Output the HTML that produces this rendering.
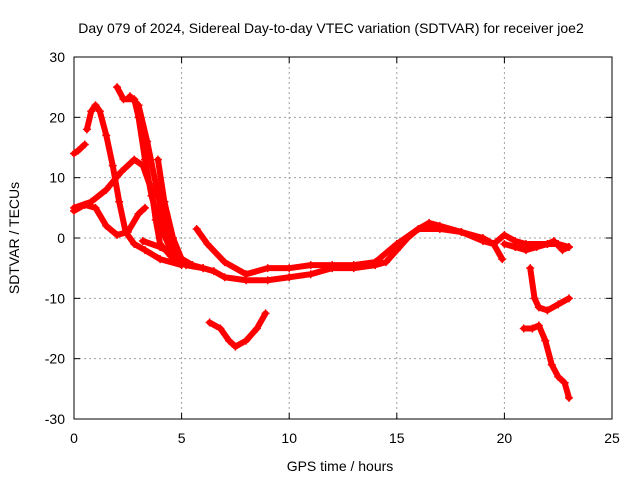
<!DOCTYPE html>
<html><head><meta charset="utf-8"><style>
body{margin:0;background:#fff;}
svg text{font-family:"Liberation Sans",sans-serif;font-size:14px;fill:#000;}
</style></head><body>
<svg id="c" width="640" height="480">
<text x="331" y="33" text-anchor="middle">Day 079 of 2024, Sidereal Day-to-day VTEC variation (SDTVAR) for receiver joe2</text>
<text x="340" y="471" text-anchor="middle">GPS time / hours</text>
<text x="19" y="238" text-anchor="middle" transform="rotate(-90 19 238)">SDTVAR / TECUs</text>
<g id="grid"></g><g id="axes"></g><g id="marks"></g>
</svg>
<script>
const xTicks=[0,5,10,15,20,25];
const yTicks=[-30,-20,-10,0,10,20,30];
const tracks=[
[[0,14],[0.2,14.5],[0.5,15.5]],
[[0.6,18],[0.8,21],[1.0,22],[1.2,21],[1.5,17],[1.8,12],[2.1,6],[2.4,1],[2.8,-1],[3.3,-2],[4,-3.5],[5,-4.5]],
[[2.0,25],[2.3,23],[2.8,23],[3.0,20],[3.3,13],[3.6,7],[4.0,2],[4.5,-2],[5,-4],[5.5,-4.5]],
[[2.6,23.5],[3.0,22],[3.4,16],[3.8,9],[4.2,2],[4.6,-2],[5.2,-4.5],[6,-5]],
[[3.9,13],[4.2,6],[4.6,0],[5.0,-3.5],[5.5,-4.5]],
[[0,4.5],[0.5,5.5],[1.0,5],[1.5,2],[2.0,0.5],[2.5,1],[3.0,4],[3.3,5]],
[[0,5],[0.8,6],[1.5,8],[2.2,11],[2.8,13],[3.2,12],[3.6,8],[3.8,3],[4.0,-1],[4.5,-3],[5,-4]],
[[3.2,-0.5],[4,-1.5],[4.8,-3],[5.5,-4.5],[6,-5],[6.5,-5.5],[7,-6.5],[8,-7],[9,-7],[10,-6.5],[11,-6],[12,-5],[13,-5],[14,-4.5],[14.5,-4],[15,-2],[15.5,0],[16,1.5],[17,1.5],[18,1],[19,0],[19.5,-1],[20,0.5],[20.5,-0.5],[21,-1],[22,-1],[22.5,-1],[23,-1.5]],
[[5.7,1.5],[6.2,-1],[7,-4],[8,-6],[9,-5],[10,-5],[11,-4.5],[12,-4.5],[13,-4.5],[14,-4],[15,-1],[16,1.5],[16.5,2.5],[17,2],[18,1],[19,-0.5],[19.5,-1],[19.9,-3.5]],
[[6.3,-14],[6.8,-15],[7.2,-17],[7.5,-18],[8,-17],[8.5,-15],[8.9,-12.5]],
[[21.2,-5],[21.4,-10],[21.6,-11.5],[22,-12],[22.5,-11],[23,-10]],
[[20.9,-15],[21.3,-15],[21.6,-14.5],[21.9,-17],[22.2,-21],[22.5,-23],[22.8,-24],[23,-26.5]],
[[20,-1],[20.5,-1.5],[21,-2],[21.5,-1.5],[22,-1],[22.3,-0.5],[22.7,-2],[23,-1.5]]
];
const X0=74,X1=612,Y0=419,Y1=57;
const sx=v=>X0+(v-0)/25*(X1-X0);
const sy=v=>Y0-(v+30)/60*(Y0-Y1);
const NS="http://www.w3.org/2000/svg";
function mk(t,a,p){const e=document.createElementNS(NS,t);for(const k in a)e.setAttribute(k,a[k]);p.appendChild(e);return e;}
const grid=document.getElementById('grid'),axes=document.getElementById('axes'),marks=document.getElementById('marks');
xTicks.forEach(t=>{
 const x=sx(t);
 if(t>0&&t<25){const g=mk('line',{x1:x,x2:x,y1:Y1,y2:Y0,stroke:'#a0a0a0','stroke-dasharray':'2,3'},grid);
 
 }
 mk('line',{x1:x,x2:x,y1:Y0,y2:Y0-6,stroke:'#000'},axes);
 mk('line',{x1:x,x2:x,y1:Y1,y2:Y1+6,stroke:'#000'},axes);
 const l=mk('text',{x:x,y:443,'text-anchor':'middle'},axes);l.textContent=t;
 
 
});
yTicks.forEach(t=>{
 const y=sy(t);
 if(t>-30&&t<30){const g=mk('line',{x1:X0,x2:X1,y1:y,y2:y,stroke:'#a0a0a0','stroke-dasharray':'2,3'},grid);
 
 }
 mk('line',{x1:X0,x2:X0+6,y1:y,y2:y,stroke:'#000'},axes);
 mk('line',{x1:X1,x2:X1-6,y1:y,y2:y,stroke:'#000'},axes);
 const l=mk('text',{x:X0-9,y:y+5,'text-anchor':'end'},axes);l.textContent=t;
 
 
});
const fr=mk('rect',{x:X0,y:Y1,width:X1-X0,height:Y0-Y1,fill:'none',stroke:'#000'},axes);


tracks.forEach((tr,i)=>{
 const pl=mk('polyline',{points:tr.map(p=>sx(p[0])+','+sy(p[1])).join(' '),fill:'none',stroke:'#f00','stroke-width':6,'stroke-linejoin':'round','stroke-linecap':'round'},marks);
 
 
 tr.forEach(p=>{const x=sx(p[0]),y=sy(p[1]);
  const m=mk('path',{d:`M${x-4},${y}H${x+4}M${x},${y-4}V${y+4}`,stroke:'#f00','stroke-width':1.5},marks);
  
  });
});
</script>
</body></html>
